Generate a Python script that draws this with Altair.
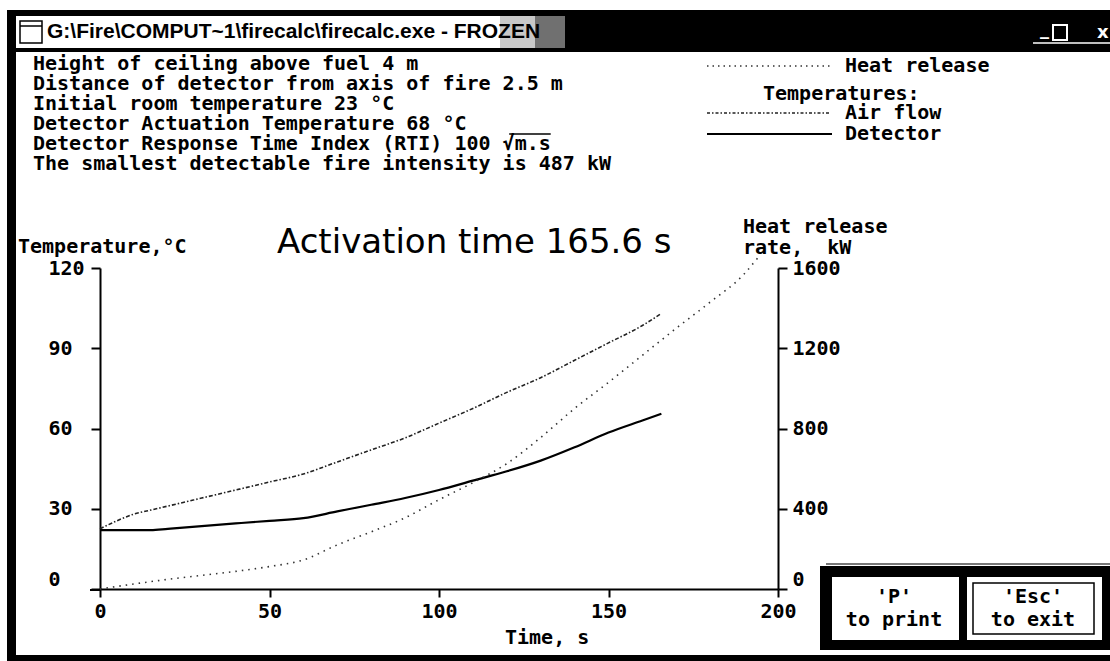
import altair as alt
import pandas as pd

# ------------------------------------------------------------------ data
TIME_TEMP = [0, 5, 10, 15, 20, 30, 40, 50, 60, 70, 80, 90, 100, 110, 120, 130, 140, 150, 160, 165.6]
AIR_FLOW = [22.5, 25.5, 28, 29.5, 31, 34, 37, 40, 43, 47.5, 52, 56.5, 62, 67.5, 73.5, 79, 85.5, 92, 98.5, 103]
DETECTOR = [22, 22, 22, 22, 22.5, 23.5, 24.5, 25.5, 26.5, 29, 31.5, 34, 37, 40.5, 44, 48, 53, 58.5, 63, 65.5]

TIME_HEAT = [0, 10, 20, 30, 40, 50, 60, 70, 80, 90, 100, 110, 120, 130, 140, 150, 160, 170, 180, 190, 194]
HEAT = [0, 25, 48, 68, 88, 112, 145, 220, 285, 355, 445, 530, 625, 755, 900, 1030, 1165, 1300, 1430, 1570, 1650]

X_TICKS = [0, 50, 100, 150, 200]
Y_TICKS = [0, 30, 60, 90, 120]
Q_TICKS = [0, 400, 800, 1200, 1600]

WINDOW_TITLE = "G:\\Fire\\COMPUT~1\\firecalc\\firecalc.exe - FROZEN"
INFO_LINES = [
    "Height of ceiling above fuel 4 m",
    "Distance of detector from axis of fire 2.5 m",
    "Initial room temperature 23 °C",
    "Detector Actuation Temperature 68 °C",
    "Detector Response Time Index (RTI) 100 √m.s",
    "The smallest detectable fire intensity is 487 kW",
]
LEGEND_HEAT = "Heat release"
LEGEND_HEAD = "Temperatures:"
LEGEND_AIR = "Air flow"
LEGEND_DET = "Detector"
TITLE = "Activation time 165.6 s"
Y_TITLE = "Temperature,°C"
Q_TITLE = ["Heat release", "rate,\u00a0 kW"]
X_TITLE = "Time, s"
BTN_PRINT = ["'P'", "to print"]
BTN_EXIT = ["'Esc'", "to exit"]

# ------------------------------------------------------------------ layout helpers
MONO = "DejaVu Sans Mono"
FS = 20                      # DOS-style text size
CW = 0.602 * FS              # monospace advance
OX, OY = 100, 268            # page position of plot origin (top-left)
W, H = 678, 321


def X(p):
    return p - OX


def Y(p):
    return p - OY


ONE = pd.DataFrame({"d": [0]})


def txt(s, x, y, size=FS, align="left", font=MONO, weight="bold", color="black", baseline="middle"):
    return alt.Chart(ONE).mark_text(
        text=s, align=align, baseline=baseline, font=font, fontSize=size,
        fontWeight=weight, color=color,
    ).encode(x=alt.value(X(x)), y=alt.value(Y(y)))


def box(x1, y1, x2, y2, fill="black", stroke=None, sw=0):
    kw = dict(fill=fill)
    if stroke:
        kw.update(stroke=stroke, strokeWidth=sw)
    return alt.Chart(ONE).mark_rect(**kw).encode(
        x=alt.value(X(x1)), x2=alt.value(X(x2)), y=alt.value(Y(y1)), y2=alt.value(Y(y2))
    )


def seg(x1, x2, y, dash=None, width=1.5, color="black"):
    kw = dict(color=color, strokeWidth=width)
    if dash:
        kw["strokeDash"] = dash
    return alt.Chart(ONE).mark_rule(**kw).encode(
        x=alt.value(X(x1)), x2=alt.value(X(x2)), y=alt.value(Y(y))
    )


# ------------------------------------------------------------------ data layers
temp_df = pd.DataFrame({"t": TIME_TEMP, "air": AIR_FLOW, "det": DETECTOR})
heat_df = pd.DataFrame({"t": TIME_HEAT, "q": HEAT})

lab = dict(labelFont=MONO, labelFontSize=FS, labelFontWeight="bold", labelColor="black")
base_axis = dict(grid=False, title=None, domainColor="black", domainWidth=2,
                 tickColor="black", tickWidth=2, labelOverlap=False, labelFlush=False,
                 format="d", **lab)

x_enc = alt.X("t:Q", scale=alt.Scale(domain=[0, 200], nice=False, zero=False),
              axis=alt.Axis(values=X_TICKS, tickSize=8, labelPadding=4, **base_axis))

zero_low = alt.ExprRef("datum.value == 0 ? 'bottom' : 'middle'")

air = alt.Chart(temp_df).mark_line(
    color="#222", strokeWidth=1.6, strokeDash=[4, 2, 1.5, 2], interpolate="monotone"
).encode(
    x=x_enc,
    y=alt.Y("air:Q", scale=alt.Scale(domain=[0, 120], nice=False),
            axis=alt.Axis(orient="left", values=Y_TICKS, tickSize=9, labelPadding=43,
                          labelAlign="left", labelBaseline=zero_low, **base_axis)),
)
det = alt.Chart(temp_df).mark_line(
    color="black", strokeWidth=2.2, interpolate="monotone"
).encode(
    x=x_enc,
    y=alt.Y("det:Q", scale=alt.Scale(domain=[0, 120], nice=False), axis=None),
)
heat = alt.Chart(heat_df).mark_line(
    color="#333", strokeWidth=1.6, strokeDash=[1.5, 5], interpolate="monotone"
).encode(
    x=x_enc,
    y=alt.Y("q:Q", scale=alt.Scale(domain=[0, 1600], nice=False),
            axis=alt.Axis(orient="right", values=Q_TICKS, tickSize=9, labelPadding=5,
                          labelAlign="left", labelBaseline=zero_low, **base_axis)),
)

# ------------------------------------------------------------------ window chrome
chrome = [
    box(7, 10, 1110, 52),                       # title bar + top frame
    box(7, 10, 16, 661),                        # left frame
    box(7, 655, 1110, 661),                     # bottom frame
    box(16, 16, 500, 48, fill="white"),
    box(500, 16, 535, 48, fill="#c8c8c8"),
    box(535, 16, 565, 48, fill="#707070"),
    box(20, 21, 42, 43, fill="white", stroke="black", sw=1.5),
    seg(20, 42, 26, width=1.5),
    txt(WINDOW_TITLE, 47, 32, size=21, font="Liberation Sans", weight="bold"),
    txt("_", 1040, 30, size=18, font="DejaVu Sans", color="white"),
    box(1053, 25, 1067, 40, fill="black", stroke="white", sw=2),
    txt("x", 1097, 33, size=18, font="DejaVu Sans", color="white", weight="bold"),
    seg(1033, 1110, 43, width=1.5, color="white"),
]

texts = [txt(s, 33, 64 + 20 * i) for i, s in enumerate(INFO_LINES)]
sq0 = 33 + 39 * CW
texts += [seg(sq0 + 0.55 * CW, sq0 + 4 * CW, 134, width=1.5)]

legend = [
    seg(707, 830, 66, dash=[1.5, 4], width=1.6, color="#333"),
    txt(LEGEND_HEAT, 845, 66),
    txt(LEGEND_HEAD, 763, 94),
    seg(707, 830, 113, dash=[3, 2, 1.5, 2], width=1.6, color="#222"),
    txt(LEGEND_AIR, 845, 113),
    seg(707, 832, 134, width=2),
    txt(LEGEND_DET, 845, 134),
]

labels = [
    txt(TITLE, 277, 243, size=34, font="DejaVu Sans", weight="normal"),
    txt(Y_TITLE, 18, 247),
    txt(Q_TITLE[0], 743, 227),
    txt(Q_TITLE[1], 743, 248),
    txt(X_TITLE, 505, 638),
    seg(90, 100, 590, width=2),
]

buttons = [
    seg(826, 1110, 564, width=2, color="#777"),
    box(820, 566, 1110, 650),
    box(832, 577, 959, 640, fill="white"),
    box(967, 577, 1102, 640, fill="white"),
    box(973, 583, 1094, 634, fill="white", stroke="black", sw=1.5),
    txt(BTN_PRINT[0], 894, 597, align="center"),
    txt(BTN_PRINT[1], 894, 620, align="center"),
    txt(BTN_EXIT[0], 1033, 597, align="center"),
    txt(BTN_EXIT[1], 1033, 620, align="center"),
]

chart = alt.layer(
    *chrome, air, det, heat, *texts, *legend, *labels, *buttons
).resolve_scale(y="independent").properties(
    width=W, height=H,
    autosize=alt.AutoSizeParams(type="none"),
    padding={"left": OX, "top": OY, "right": 1110 - OX - W, "bottom": 661 - OY - H},
    background="white",
).configure_view(stroke=None)

chart.save("out.html", embed_options={"renderer": "svg", "actions": False})
